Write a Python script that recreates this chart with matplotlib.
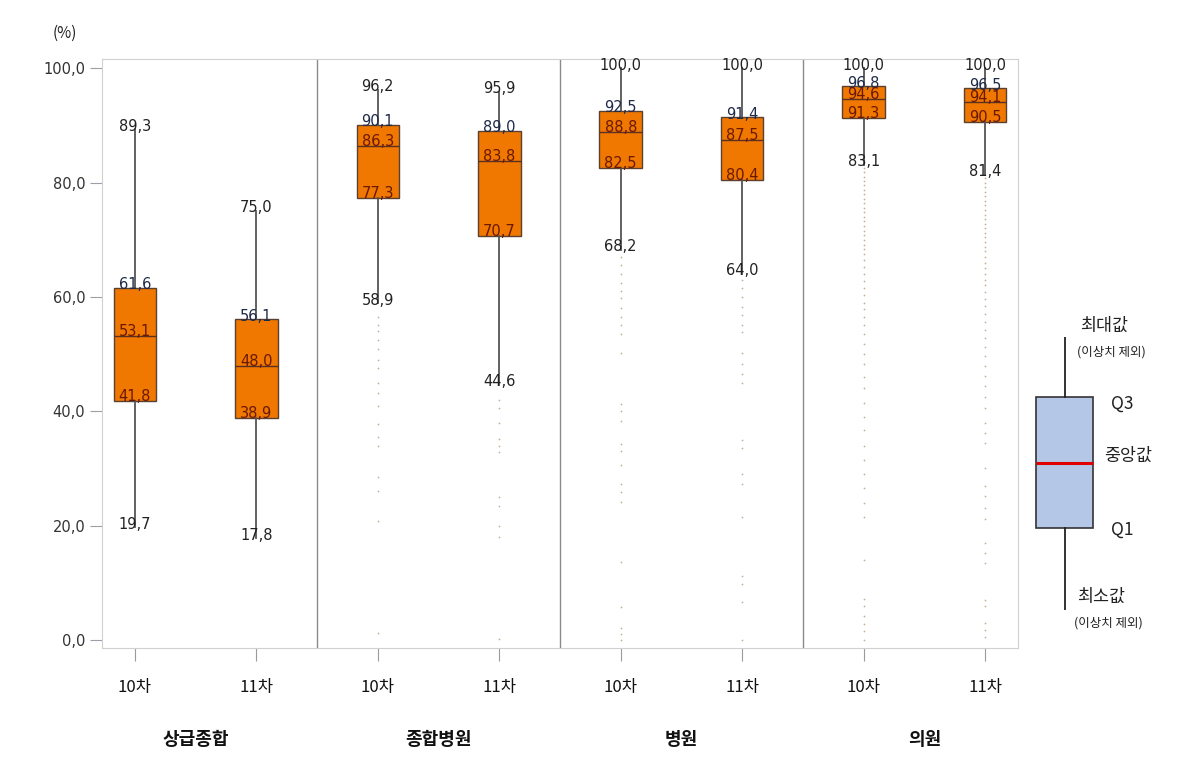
import matplotlib
matplotlib.use("Agg")
import matplotlib.pyplot as plt

plt.rcParams['font.family'] = ['Noto Sans CJK KR', 'DejaVu Sans']

# data
groups = ["상급종합", "종합병원", "병원", "의원"]
rounds = ["10차", "11차"]
whis_lo = [19.7, 17.8, 58.9, 44.6, 68.2, 64.0, 83.1, 81.4]
q1s = [41.8, 38.9, 77.3, 70.7, 82.5, 80.4, 91.3, 90.5]
medians = [53.1, 48.0, 86.3, 83.8, 88.8, 87.5, 94.6, 94.1]
q3s = [61.6, 56.1, 90.1, 89.0, 92.5, 91.4, 96.8, 96.5]
whis_hi = [89.3, 75.0, 96.2, 95.9, 100.0, 100.0, 100.0, 100.0]

# outliers
out_top_10 = []
out_top_11 = []
out_gen_10 = [56.5, 55.0, 54.0, 52.5, 50.8, 49.0, 47.5, 45.0, 43.2, 41.0, 37.8, 35.5,
              34.0, 28.5, 26.0, 20.8, 1.3]
out_gen_11 = [42.0, 40.5, 38.0, 35.2, 34.0, 32.8, 25.0, 23.5, 20.0, 18.0, 0.2]
out_hosp_10 = [67.0, 65.5, 64.0, 62.5, 61.0, 59.8, 58.0, 56.5, 55.0, 53.5, 50.2, 41.2,
               40.0, 38.3, 34.2, 33.0, 30.6, 27.2, 25.8, 24.2, 13.6, 5.8, 2.1, 1.0, 0.0]
out_hosp_11 = [63.0, 61.5, 60.0, 58.2, 56.8, 55.0, 53.8, 50.2, 48.3, 46.5, 45.0, 35.0,
               33.5, 29.0, 27.2, 21.5, 11.2, 9.8, 6.6, 0.0]
out_clinic_10 = [82.5, 81.8, 81.0, 80.2, 79.5, 78.7, 78.0, 77.2, 76.4, 75.6, 74.8, 74.0,
                 73.2, 72.4, 71.6, 70.8, 70.0, 69.1, 68.3, 67.5, 66.4, 65.2, 64.0, 62.8,
                 61.6, 60.4, 59.0, 57.8, 56.4, 55.0, 53.5, 51.8, 50.0, 48.2, 46.0, 44.0,
                 41.5, 39.0, 36.8, 34.0, 31.5, 29.0, 26.5, 24.0, 21.5, 14.0, 7.2, 6.0,
                 4.2, 2.8, 1.5, 0.0]
out_clinic_11 = [80.8, 80.0, 79.2, 78.4, 77.6, 76.8, 76.0, 75.2, 74.4, 73.6, 72.8, 72.0,
                 71.2, 70.4, 69.6, 68.8, 68.0, 67.0, 66.0, 65.0, 64.0, 63.0, 62.0, 60.8,
                 59.6, 58.4, 57.0, 55.6, 54.2, 52.8, 51.2, 49.6, 48.0, 46.2, 44.4, 42.5,
                 40.5, 38.0, 36.2, 34.5, 30.0, 27.0, 25.2, 23.0, 21.2, 17.0, 15.2, 13.5,
                 7.0, 6.0, 3.0, 1.8, 0.5]
outliers = [out_top_10, out_top_11, out_gen_10, out_gen_11,
            out_hosp_10, out_hosp_11, out_clinic_10, out_clinic_11]

yticks = [0, 20, 40, 60, 80, 100]

# legend schematic (relative scale)
leg_stats = dict(whislo=0, q1=30, med=54, q3=78, whishi=100, fliers=[])

W, H = 1202, 761
fig = plt.figure(figsize=(W / 100, H / 100), dpi=100)
ax = fig.add_axes([102 / W, 1 - 648 / H, (1018 - 102) / W, (648 - 59) / H])

stats = []
for i in range(8):
    stats.append(dict(whislo=whis_lo[i], q1=q1s[i], med=medians[i], q3=q3s[i],
                      whishi=whis_hi[i], fliers=outliers[i]))
pos = list(range(8))

ax.bxp(stats, positions=pos, widths=0.35, patch_artist=True, showcaps=False,
       boxprops=dict(facecolor='#f07800', edgecolor='#5a4030', linewidth=1.0),
       medianprops=dict(color='#5a3020', linewidth=1.0),
       whiskerprops=dict(color='#555555', linewidth=1.3),
       flierprops=dict(marker='.', markersize=2.5, markerfacecolor='#c0a080',
                       markeredgecolor='none', alpha=0.85))

def fmt(v):
    return ("%.1f" % v).replace(".", ",")

num_font = 'DejaVu Sans'
for i in range(8):
    ax.annotate(fmt(whis_hi[i]), (pos[i], whis_hi[i]), xytext=(0, -1), textcoords='offset points',
                ha='center', va='baseline', fontsize=10.5, color='#222222', zorder=5,
                family=num_font)
    ax.annotate(fmt(q3s[i]), (pos[i], q3s[i]), xytext=(0, -1), textcoords='offset points',
                ha='center', va='baseline', fontsize=10.5, color='#1e2a48', zorder=5,
                family=num_font)
    ax.annotate(fmt(medians[i]), (pos[i], medians[i]), xytext=(0, 0), textcoords='offset points',
                ha='center', va='baseline', fontsize=10.5, color='#6a1800', zorder=5,
                family=num_font)
    ax.annotate(fmt(q1s[i]), (pos[i], q1s[i]), xytext=(0, 0), textcoords='offset points',
                ha='center', va='baseline', fontsize=10.5, color='#6a1800', zorder=5,
                family=num_font)
    ax.annotate(fmt(whis_lo[i]), (pos[i], whis_lo[i]), xytext=(0, -1), textcoords='offset points',
                ha='center', va='baseline', fontsize=10.5, color='#222222', zorder=5,
                family=num_font)

# group dividers
for d in [1.5, 3.5, 5.5]:
    ax.axvline(d, color='#8a8a8a', linewidth=1.0)

ax.set_xlim(-0.27, 7.27)
ax.set_ylim(-1.4, 101.6)
ax.set_yticks(yticks)
ax.set_yticklabels([fmt(v) for v in yticks], fontsize=10.5, color='#333333', family=num_font)
ax.set_xticks(pos)
ax.set_xticklabels(rounds * 4, fontsize=12, color='#111111')
ax.tick_params(axis='y', length=9, color='#9aa0aa', pad=3)
ax.tick_params(axis='x', length=9.5, color='#9a9a9a', pad=13)
for s in ax.spines.values():
    s.set_color('#d0d0d0')

for g in range(4):
    ax.text(2 * g + 0.5, -0.155, groups[g], transform=ax.get_xaxis_transform(),
            ha='center', va='center', fontsize=13, fontweight='bold', color='#111111')

fig.text(65 / W, 1 - 33 / H, "(%)", ha='center', va='center', fontsize=11, color='#222222')

# legend schematic
lax = fig.add_axes([1029.5 / W, 1 - 610 / H, 70 / W, (610 - 337) / H])
lax.bxp([leg_stats], positions=[0], widths=0.81, patch_artist=True, showcaps=False,
        boxprops=dict(facecolor='#b4c7e7', edgecolor='#333333', linewidth=1.2),
        medianprops=dict(color='#e00000', linewidth=2.2),
        whiskerprops=dict(color='#222222', linewidth=1.3))
lax.set_xlim(-0.5, 0.5)
lax.set_ylim(0, 100)
lax.axis('off')

def ftext(x, y, s, size, **kw):
    fig.text(x / W, 1 - y / H, s, ha='left', va='center', fontsize=size, color='#222222', **kw)

ftext(1080, 326, "최대값", 12.5)
ftext(1077, 352, "(이상치 제외)", 9)
ftext(1111, 404, "Q3", 12.5)
ftext(1104, 456, "중앙값", 12.5)
ftext(1111, 530, "Q1", 12.5)
ftext(1077, 597, "최소값", 12.5)
ftext(1074, 623, "(이상치 제외)", 9)

fig.savefig("out.png", dpi=100, facecolor='white')
